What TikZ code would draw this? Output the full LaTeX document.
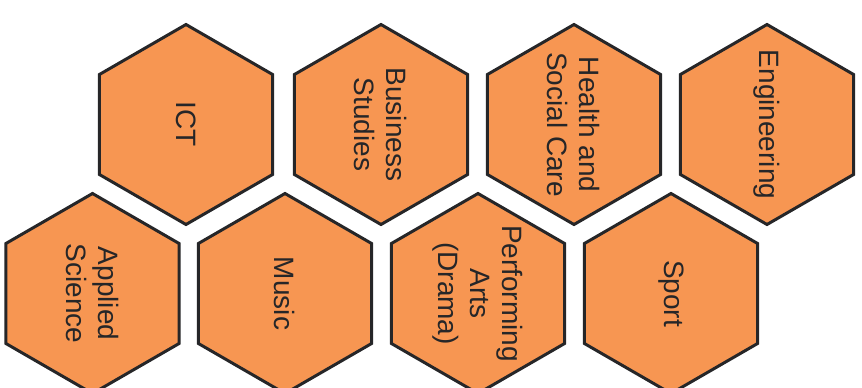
\documentclass[tikz,border=0pt]{standalone}
\usepackage{fontspec}
\setmainfont{Liberation Sans}
\usetikzlibrary{shapes.geometric}
\definecolor{hexorange}{RGB}{247,150,82}
\definecolor{hexline}{RGB}{38,38,40}
\tikzset{hexcell/.style={regular polygon, regular polygon sides=6, minimum size=200pt, inner sep=0pt, rotate=-90, draw=hexline, line width=3pt, fill=hexorange},
	hextext/.style={rotate=-90, inner sep=0pt, text=hexline, align=center, font=\fontsize{28}{32}\selectfont}}

\begin{document}
\begin{tikzpicture}[x=1pt,y=-1pt]
			%%%%% START %%%%%
			
			\useasboundingbox (0,0) rectangle (862,388);
			\clip (0,0) rectangle (862,388);
			
			\node[hexcell, label={[hextext]center:ICT}] (ict) at (186, 124.5) {};
			\node[hexcell, label={[hextext]center:Business\\Studies}] (business) at (381, 124.5) {};
			\node[hexcell, label={[hextext]center:Health and\\Social Care}] (health) at (574, 124.5) {};
			\node[hexcell, label={[hextext]center:Engineering}] (engineering) at (767, 124.5) {};
			
			\node[hexcell, label={[hextext]center:Applied\\Science}] (science) at (92.5, 293.5) {};
			\node[hexcell, label={[hextext]center:Music}] (music) at (285, 293.5) {};
			\node[hexcell, label={[hextext]center:Performing\\Arts\\(Drama)}] (drama) at (478, 293.5) {};
			\node[hexcell, label={[hextext]center:Sport}] (sport) at (671, 293.5) {};
			
			%%%%% END %%%%%
\end{tikzpicture}
\end{document}
